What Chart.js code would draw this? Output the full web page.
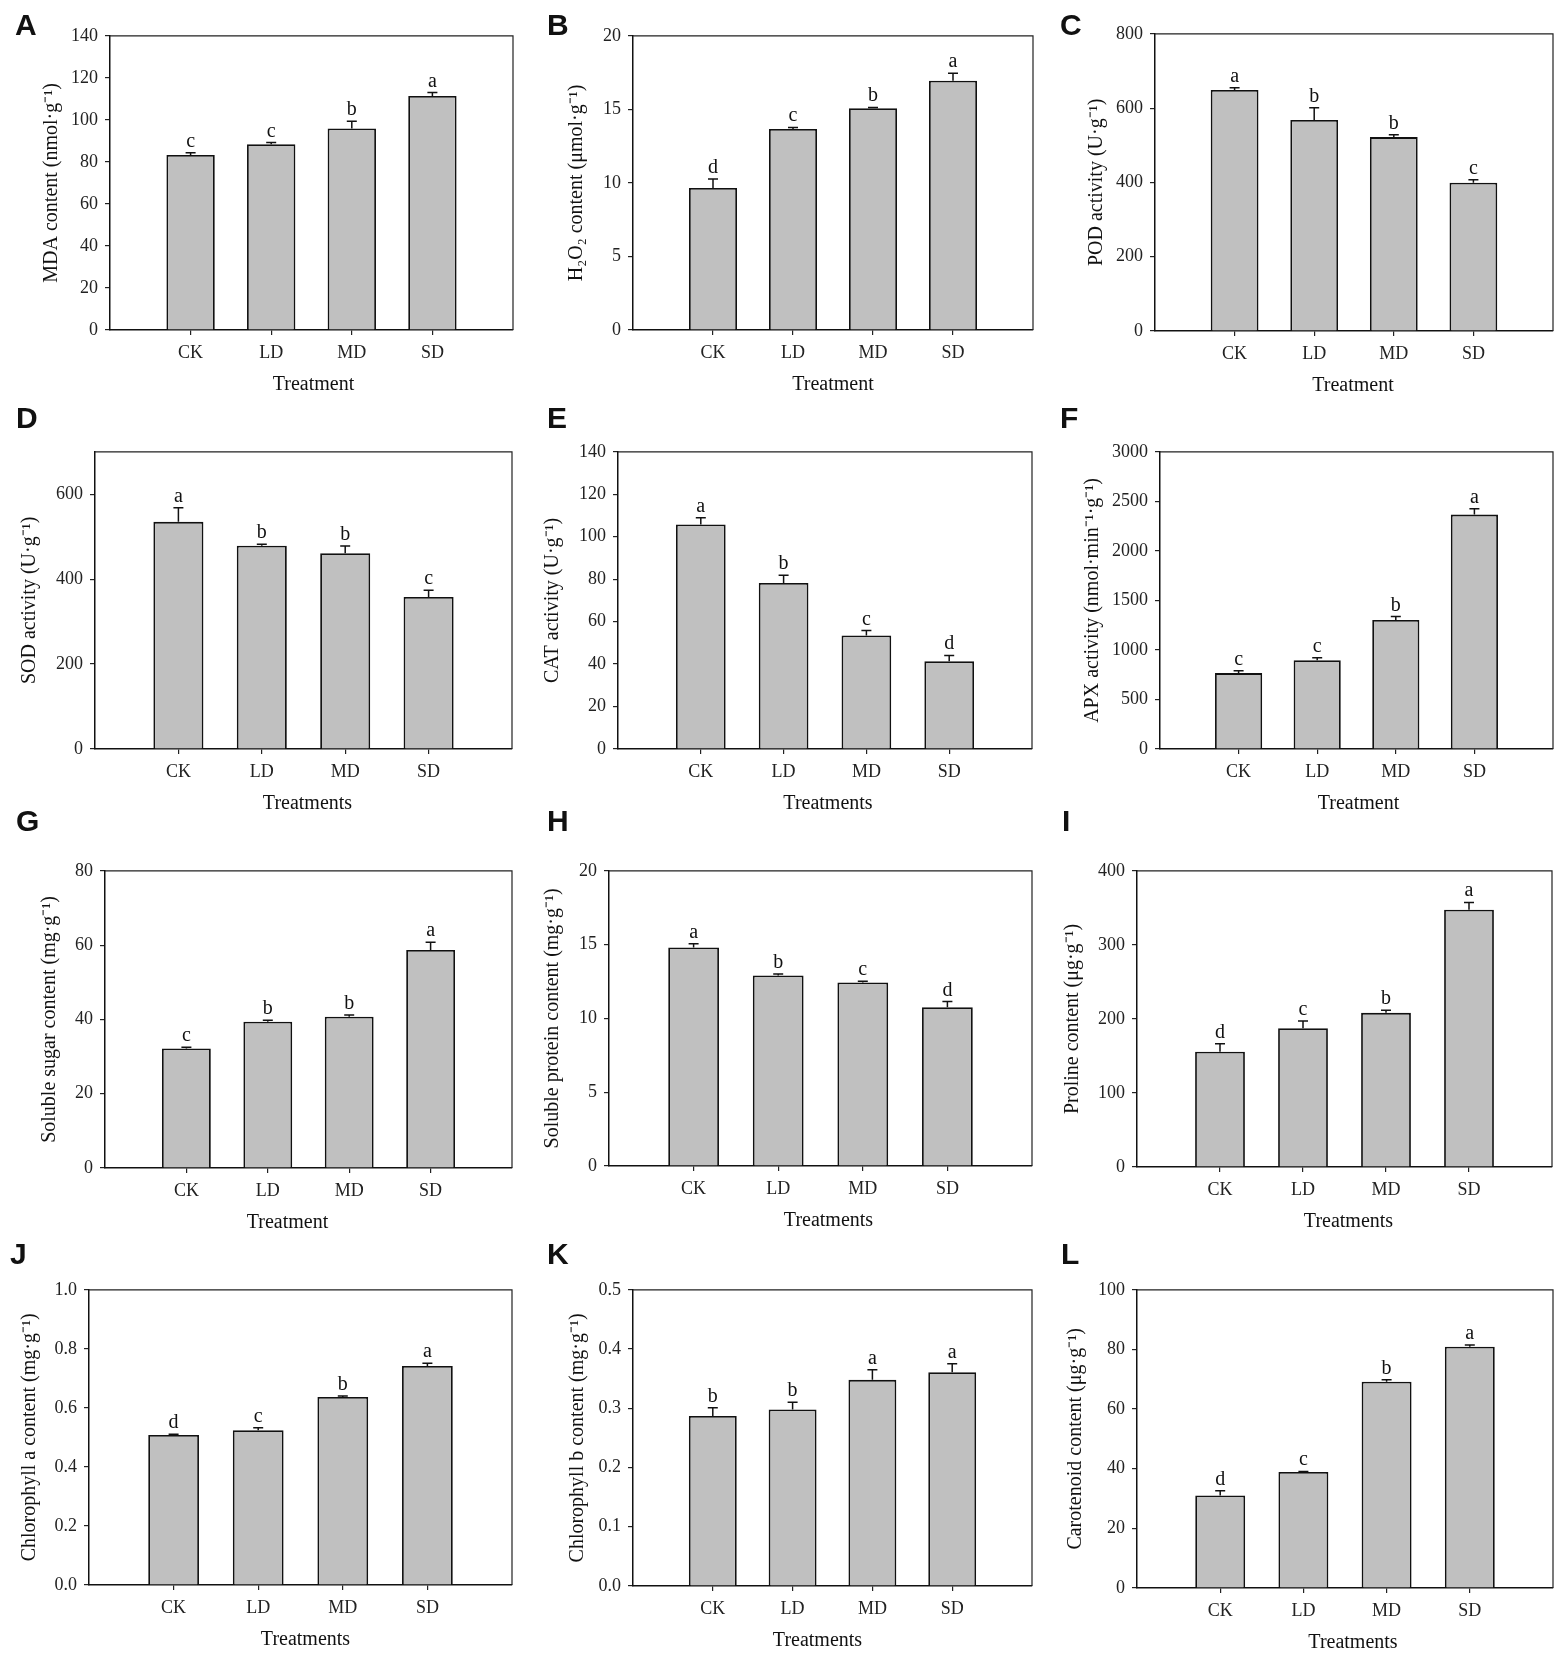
<!DOCTYPE html>
<html><head><meta charset="utf-8">
<script src="https://cdn.jsdelivr.net/npm/chart.js@4"></script>
<style>
body{margin:0;background:#fff;width:1562px;height:1654px;position:relative;overflow:hidden}
canvas{position:absolute}
.lab{position:absolute;font:bold 30px "Liberation Sans",Arial,sans-serif;line-height:30px;color:#111}
</style></head><body>
<script>
const categories = ['CK','LD','MD','SD'];

const mdaValues = [83.3, 88.4, 95.9, 111.4];
const mdaErrors = [1.0, 0.8, 3.4, 1.6];
const mdaLetters = ['c','c','b','a'];

const h2o2Values = [9.66, 13.67, 15.08, 16.95];
const h2o2Errors = [0.6, 0.1, 0.05, 0.5];
const h2o2Letters = ['d','c','b','a'];

const podValues = [649, 568, 522, 399];
const podErrors = [6, 33, 6, 8];
const podLetters = ['a','b','b','c'];

const sodValues = [535, 479, 461, 358];
const sodErrors = [33, 3, 17, 16];
const sodLetters = ['a','b','b','c'];

const catValues = [105.8, 78.2, 53.5, 41.3];
const catErrors = [3.1, 3.7, 2.3, 2.8];
const catLetters = ['a','b','c','d'];

const apxValues = [766, 897, 1303, 2366];
const apxErrors = [24, 23, 34, 60];
const apxLetters = ['c','c','b','a'];

const sugarValues = [32.2, 39.4, 40.7, 58.7];
const sugarErrors = [0.3, 0.4, 0.5, 2.1];
const sugarLetters = ['c','b','b','a'];

const proteinValues = [14.80, 12.91, 12.44, 10.76];
const proteinErrors = [0.25, 0.1, 0.07, 0.38];
const proteinLetters = ['a','b','c','d'];

const prolineValues = [155.6, 187.3, 208.2, 347.3];
const prolineErrors = [11, 10, 3.6, 10];
const prolineLetters = ['d','c','b','a'];

const chlaValues = [0.508, 0.524, 0.637, 0.742];
const chlaErrors = [0.003, 0.009, 0.003, 0.009];
const chlaLetters = ['d','c','b','a'];

const chlbValues = [0.287, 0.298, 0.348, 0.361];
const chlbErrors = [0.014, 0.012, 0.017, 0.014];
const chlbLetters = ['b','b','a','a'];

const carValues = [31.0, 38.9, 69.2, 80.9];
const carErrors = [1.6, 0.2, 0.6, 0.6];
const carLetters = ['d','c','b','a'];

const SERIF = '"Liberation Serif","Times New Roman",serif';

const panels = [
 {id:'A', values:mdaValues, errors:mdaErrors, letters:mdaLetters, yMax:140, yStep:20, dec:0, yTitle:'MDA content (nmol·g⁻¹)', xTitle:'Treatment', rect:[110,33,513,330], yGap:58, xDx:2, lab:[15,10]},
 {id:'B', values:h2o2Values, errors:h2o2Errors, letters:h2o2Letters, yMax:20, yStep:5, dec:0, yTitle:'H₂O₂ content (μmol·g⁻¹)', xTitle:'Treatment', rect:[633,33,1033,330], yGap:56, xDx:0, lab:[547,10]},
 {id:'C', values:podValues, errors:podErrors, letters:podLetters, yMax:800, yStep:200, dec:0, yTitle:'POD activity (U·g⁻¹)', xTitle:'Treatment', rect:[1155,31,1553,331], yGap:58, xDx:-1, lab:[1060,10]},
 {id:'D', values:sodValues, errors:sodErrors, letters:sodLetters, yMax:700, yStep:200, lastTick:600, dec:0, yTitle:'SOD activity (U·g⁻¹)', xTitle:'Treatments', rect:[95,449,512,749], yGap:65, xDx:4, lab:[16,403]},
 {id:'E', values:catValues, errors:catErrors, letters:catLetters, yMax:140, yStep:20, dec:0, yTitle:'CAT activity (U·g⁻¹)', xTitle:'Treatments', rect:[618,449,1032,749], yGap:65, xDx:3, lab:[547,403]},
 {id:'F', values:apxValues, errors:apxErrors, letters:apxLetters, yMax:3000, yStep:500, dec:0, yTitle:'APX activity (nmol·min⁻¹·g⁻¹)', xTitle:'Treatment', rect:[1160,449,1553,749], yGap:67, xDx:2, lab:[1060,403]},
 {id:'G', values:sugarValues, errors:sugarErrors, letters:sugarLetters, yMax:80, yStep:20, dec:0, yTitle:'Soluble sugar content (mg·g⁻¹)', xTitle:'Treatment', rect:[105,868,512,1168], yGap:55, xDx:-21, lab:[16,806]},
 {id:'H', values:proteinValues, errors:proteinErrors, letters:proteinLetters, yMax:20, yStep:5, dec:0, yTitle:'Soluble protein content (mg·g⁻¹)', xTitle:'Treatments', rect:[609,868,1032,1166], yGap:56, xDx:8, lab:[547,806]},
 {id:'I', values:prolineValues, errors:prolineErrors, letters:prolineLetters, yMax:400, yStep:100, dec:0, yTitle:'Proline content (μg·g⁻¹)', xTitle:'Treatments', rect:[1137,868,1552,1167], yGap:64, xDx:4, lab:[1062,806]},
 {id:'J', values:chlaValues, errors:chlaErrors, letters:chlaLetters, yMax:1.0, yStep:0.2, dec:1, yTitle:'Chlorophyll a content (mg·g⁻¹)', xTitle:'Treatments', rect:[89,1287,512,1585], yGap:59, xDx:5, lab:[10,1239]},
 {id:'K', values:chlbValues, errors:chlbErrors, letters:chlbLetters, yMax:0.5, yStep:0.1, dec:1, yTitle:'Chlorophyll b content (mg·g⁻¹)', xTitle:'Treatments', rect:[633,1287,1032,1586], yGap:55, xDx:-15, lab:[547,1239]},
 {id:'L', values:carValues, errors:carErrors, letters:carLetters, yMax:100, yStep:20, dec:0, yTitle:'Carotenoid content (μg·g⁻¹)', xTitle:'Treatments', rect:[1137,1287,1553,1588], yGap:61, xDx:8, lab:[1061,1239]}
];

const PADL=100, PADT=15, PADR=10, PADB=75;

function decor(p){
  return {id:'decor'+p.id, afterDraw(chart){
    const ctx=chart.ctx, a=chart.chartArea, ys=chart.scales.y;
    ctx.save();
    ctx.strokeStyle='#222'; ctx.lineWidth=1.2;
    ctx.beginPath(); ctx.moveTo(a.left,a.top); ctx.lineTo(a.right,a.top); ctx.lineTo(a.right,a.bottom); ctx.stroke();
    const meta=chart.getDatasetMeta(0);
    p.values.forEach((v,i)=>{
      const bar=meta.data[i+1]; const x=bar.x;
      const y0=ys.getPixelForValue(v), y1=ys.getPixelForValue(v+p.errors[i]);
      ctx.strokeStyle='#111'; ctx.lineWidth=1.5;
      ctx.beginPath(); ctx.moveTo(x,y0); ctx.lineTo(x,y1); ctx.moveTo(x-5,y1); ctx.lineTo(x+5,y1); ctx.stroke();
      ctx.fillStyle='#111'; ctx.font='20px '+SERIF; ctx.textAlign='center'; ctx.textBaseline='alphabetic';
      ctx.fillText(p.letters[i], x, y1-6);
    });
    ctx.fillStyle='#111'; ctx.font='20px '+SERIF; ctx.textAlign='center'; ctx.textBaseline='middle';
    ctx.fillText(p.xTitle, (a.left+a.right)/2 + p.xDx, a.bottom+55);
    ctx.translate(a.left - p.yGap, (a.top+a.bottom)/2);
    ctx.rotate(-Math.PI/2);
    ctx.fillText(p.yTitle, 0, 0);
    ctx.restore();
  }};
}

panels.forEach(p=>{
  const [l,t,r,b]=p.rect;
  const c=document.createElement('canvas');
  const w=r-l+PADL+PADR, h=b-t+PADT+PADB;
  c.width=w; c.height=h;
  c.style.left=(l-PADL)+'px'; c.style.top=(t-PADT)+'px';
  c.style.width=w+'px'; c.style.height=h+'px';
  document.body.appendChild(c);
  const d=document.createElement('div'); d.className='lab'; d.textContent=p.id;
  d.style.left=p.lab[0]+'px'; d.style.top=p.lab[1]+'px';
  document.body.appendChild(d);
  new Chart(c,{
    type:'bar',
    data:{labels:['',...categories,''], datasets:[{data:[null,...p.values,null], backgroundColor:'#c0c0c0', borderColor:'#111', borderWidth:1.8, barPercentage:0.6, categoryPercentage:1}]},
    options:{
      responsive:false, animation:false, devicePixelRatio:1,
      layout:{padding:{left:0,top:PADT,right:PADR,bottom:0}},
      plugins:{legend:{display:false}, tooltip:{enabled:false}},
      scales:{
        x:{type:'category', offset:false,
           grid:{offset:false, drawOnChartArea:false, drawTicks:true, tickLength:5, lineWidth:1.2,
                 color:ctx=>(ctx.index===0||ctx.index===5)?'rgba(0,0,0,0)':'#222'},
           border:{display:true,color:'#111',width:1.5},
           ticks:{font:{family:SERIF,size:18}, color:'#222', padding:7, maxRotation:0, autoSkip:false},
           afterFit:s=>{s.height=PADB;}},
        y:{min:0, max:p.yMax,
           ticks:{stepSize:p.yStep, font:{family:SERIF,size:18}, color:'#222', padding:7,
                  callback:v=>Number(v).toFixed(p.dec)},
           grid:{drawOnChartArea:false, drawTicks:true, tickLength:5, color:'#222', lineWidth:1.2},
           border:{display:true,color:'#111',width:1.5},
           afterBuildTicks:s=>{ if(p.lastTick!==undefined){ s.ticks=s.ticks.filter(tk=>tk.value<=p.lastTick); } },
           afterFit:s=>{s.width=PADL;}}
      }
    },
    plugins:[decor(p)]
  });
});
</script>
</body></html>
